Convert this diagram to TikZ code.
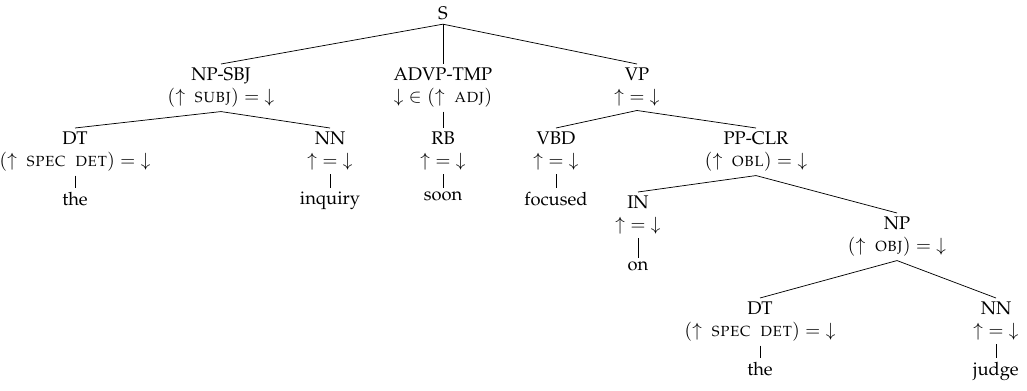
\documentclass[tikz,border=0pt]{standalone}
\usepackage[T1]{fontenc}
\usepackage{mathpazo}

\newcommand\gfn[1]{\mbox{\textsc{#1}}}
\newcommand\fup{\mathord{\uparrow}}
\newcommand\fdown{\mathord{\downarrow}}

\begin{document}
\begin{tikzpicture}[x=0.01917cm,y=-0.01917cm,
	cat/.style={anchor=north,align=center,inner sep=2pt},
	leaf/.style={anchor=north,inner sep=2pt}]
	\useasboundingbox (0,0) rectangle (1027,391);
	% top levels
	\node[cat] (s) at (443,3) {S};
	\node[cat] (npsbj) at (221,64) {NP-SBJ\\$(\fup\enskip\gfn{subj}) = \fdown$};
	\node[cat] (advp) at (443,64) {ADVP-TMP\\$\fdown \in (\fup\enskip\gfn{adj})$};
	\node[cat] (vp) at (637,64) {VP\\$\fup = \fdown$};
	\node[cat] (dt1) at (75,128) {DT\\$(\fup\enskip\gfn{spec}\enskip\gfn{det}) = \fdown$};
	\node[cat] (nn1) at (330,128) {NN\\$\fup = \fdown$};
	\node[cat] (rb) at (443,128) {RB\\$\fup = \fdown$};
	\node[cat] (vbd) at (556,128) {VBD\\$\fup = \fdown$};
	\node[cat] (ppclr) at (756,128) {PP-CLR\\$(\fup\enskip\gfn{obl}) = \fdown$};
	\node[cat] (in) at (638,192) {IN\\$\fup = \fdown$};
	\node[cat] (np) at (897,213) {NP\\$(\fup\enskip\gfn{obj}) = \fdown$};
	\node[cat] (dt2) at (760,298) {DT\\$(\fup\enskip\gfn{spec}\enskip\gfn{det}) = \fdown$};
	\node[cat] (nn2) at (996,298) {NN\\$\fup = \fdown$};
	% words
	\node[leaf] (w1) at (75,188) {the};
	\node[leaf] (w2) at (330,188) {inquiry};
	\node[leaf] (w3) at (443,188) {soon};
	\node[leaf] (w4) at (556,188) {focused};
	\node[leaf] (w5) at (638,258) {on};
	\node[leaf] (w6) at (760,358) {the};
	\node[leaf] (w7) at (996,358) {judge};
	% branches
	\draw (s.south) -- (npsbj.north);
	\draw (s.south) -- (advp.north);
	\draw (s.south) -- (vp.north);
	\draw (npsbj.south) -- (dt1.north);
	\draw (npsbj.south) -- (nn1.north);
	\draw (advp.south) -- (rb.north);
	\draw (vp.south) -- (vbd.north);
	\draw (vp.south) -- (ppclr.north);
	\draw (ppclr.south) -- (in.north);
	\draw (ppclr.south) -- (np.north);
	\draw (np.south) -- (dt2.north);
	\draw (np.south) -- (nn2.north);
	\draw (dt1.south) -- (w1.north);
	\draw (nn1.south) -- (w2.north);
	\draw (rb.south) -- (w3.north);
	\draw (vbd.south) -- (w4.north);
	\draw (in.south) -- (w5.north);
	\draw (dt2.south) -- (w6.north);
	\draw (nn2.south) -- (w7.north);
\end{tikzpicture}
\end{document}
